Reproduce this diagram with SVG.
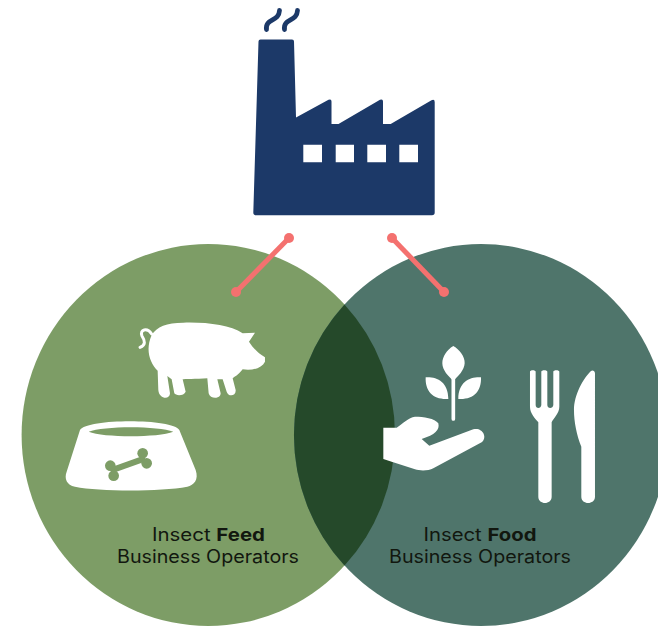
<svg xmlns="http://www.w3.org/2000/svg" width="658" height="626" viewBox="0 0 658 626">
<style>
text{font-family:"Inter","Liberation Sans",sans-serif;font-size:18px;fill:#12170f;text-anchor:middle}
.b{font-weight:700}
.w{fill:#fff}
.link{stroke:#f4716f;stroke-width:5;fill:none}
.dot{fill:#f4716f}
.smoke{stroke:#1c3968;stroke-width:4.8;fill:none;stroke-linecap:round}
</style>
<rect width="658" height="626" fill="#fff"/>
<g id="feed-circle"><ellipse cx="208.300" cy="435" rx="186.700" ry="191" fill="#7d9d66"/></g>
<g id="food-circle"><ellipse cx="481" cy="435" rx="187" ry="191" fill="#4f756b"/></g>
<g id="overlap"><path d="M344.500 304.400A186.700 191 0 0 1 344.500 565.600A187 191 0 0 1 344.500 304.400Z" fill="#25492a"/></g>
<g id="factory">
<path fill="#1c3968" fill-rule="evenodd" d="M260.500 39.500H292Q294 39.500 294 41.500L296 117.500L328.500 99.800Q331.500 98.500 331.500 101.500V124H338.500L380 99.800Q383 98.500 383 101.500V124H390.700L431.500 100.200Q434.700 98.800 434.700 102V212.500Q434.700 215.300 432 215.300H256Q253.300 215.300 253.300 212.500L258.500 41.500Q258.500 39.500 260.500 39.500ZM303.300 144.700V162.300H322V144.700ZM335.700 144.700V162.300H354V144.700ZM367.300 144.700V162.300H386V144.700ZM399.300 144.700V162.300H418V144.700Z"/>
<path class="smoke" d="M266.500 29.500C265 18 279 22 279.500 10.500"/>
<path class="smoke" d="M284.500 29.500C283 18 297 22 297.500 10.500"/>
</g>
<g id="connectors">
<path class="link" d="M289 238L236 292"/><circle class="dot" cx="289" cy="238" r="5"/><circle class="dot" cx="236" cy="292" r="5"/>
<path class="link" d="M392 238L444 292"/><circle class="dot" cx="392" cy="238" r="5"/><circle class="dot" cx="444" cy="292" r="5"/>
</g>
<g id="pig" transform="translate(50 310) scale(.3333)">
<path class="w" d="M305 75C320 50 350 38 400 38C470 36 540 45 578 70L615 68L597 95C610 115 625 130 645 142V155C635 175 605 183 578 178C565 195 550 203 548 205L557 240C559 258 535 262 530 245L518 208H502L512 250C512 268 480 268 476 250L472 205C440 207 400 207 398 208L407 245C402 258 378 258 373 250L365 208L352 198L360 250C360 270 327 268 325 240L323 182C300 160 285 120 305 75Z"/>
<path d="M305 72C292 52 268 58 276 78C285 92 288 105 270 112" fill="none" stroke="#fff" stroke-width="9" stroke-linecap="round"/>
</g>
<g id="bowl" transform="translate(50 310) scale(.3333)">
<path class="w" d="M90 360C110 325 370 325 388 360L437 480C447 510 432 525 412 530C330 545 150 545 75 530C50 525 42 505 50 485Z"/>
<path d="M116 365C160 347 325 347 370 365C325 383 160 383 116 365Z" fill="#7d9d66"/>
<g fill="#7d9d66"><path d="M182 482L285 445" stroke="#7d9d66" stroke-width="18"/><circle cx="181" cy="467" r="16"/><circle cx="191" cy="497" r="16"/><circle cx="278" cy="430" r="16"/><circle cx="290" cy="460" r="16"/></g>
</g>
<g id="plant-hand" transform="translate(370 335) scale(.3333)">
<path class="w" d="M250 33C270 45 285 65 284 85C283 105 265 125 250 137C235 125 217 105 217 85C217 65 230 45 250 33ZM167 127C200 125 235 140 235 192C190 195 165 170 167 127ZM333 127C300 125 265 140 265 192C310 195 335 170 333 127Z"/>
<path d="M250 130V252" stroke="#fff" stroke-width="11" stroke-linecap="round"/>
<path class="w" d="M40 278H80C100 265 115 247 135 245C160 245 195 250 205 265C210 285 195 300 155 312L178 332L310 283C335 275 355 305 335 322L190 400C175 408 150 408 135 403L65 380L40 372Z"/>
</g>
<g id="cutlery" transform="translate(370 335) scale(.3333)">
<path class="w" d="M480 110C480 104 497 104 497 110V210C497 222 513 222 514 210V110C514 104 532 104 532 110V210C532 222 549 222 550 210V110C550 104 568 104 568 110V215C568 235 550 250 545 262V485C545 510 505 510 505 485V262C495 250 480 235 480 215Z"/>
<path class="w" d="M663 108C668 104 675 108 675 115V485C675 510 634 510 634 485V335C620 300 612 260 612 225C612 180 640 130 663 108Z"/>
</g>
<g id="feed-label"><text x="208.500" y="541" textLength="113" lengthAdjust="spacingAndGlyphs">Insect <tspan class="b">Feed</tspan></text><text x="208" y="563" textLength="182" lengthAdjust="spacingAndGlyphs">Business Operators</text></g>
<g id="food-label"><text x="480" y="541" textLength="113" lengthAdjust="spacingAndGlyphs">Insect <tspan class="b">Food</tspan></text><text x="480" y="563" textLength="182" lengthAdjust="spacingAndGlyphs">Business Operators</text></g>
</svg>
